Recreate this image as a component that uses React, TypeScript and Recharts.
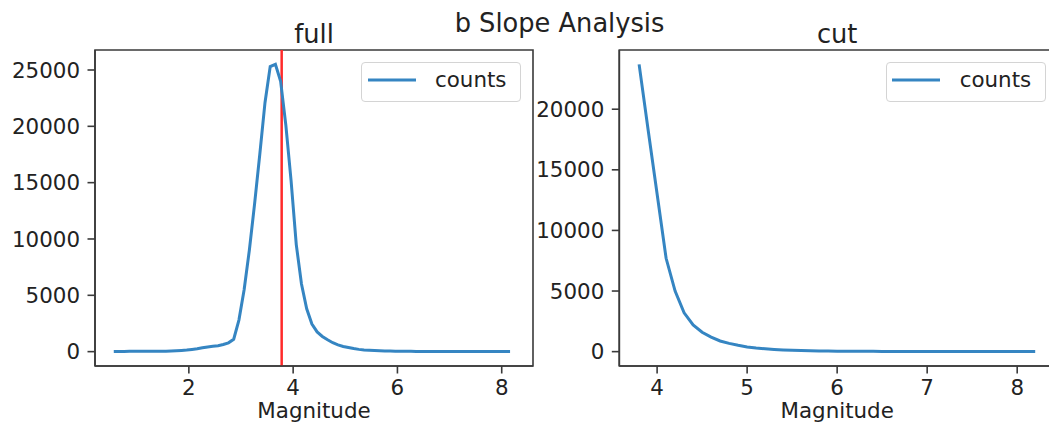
import { LineChart, Line, XAxis, YAxis, ReferenceLine, ReferenceArea, Legend } from "recharts";

// full catalogue: counts per 0.1 magnitude bin
const leftMagnitudes = [
  0.56, 0.66, 0.76, 0.86, 0.96, 1.06, 1.16, 1.26, 1.36, 1.46,
  1.56, 1.66, 1.76, 1.86, 1.96, 2.06, 2.16, 2.26, 2.36, 2.46,
  2.56, 2.66, 2.76, 2.86, 2.96, 3.06, 3.16, 3.26, 3.36, 3.46,
  3.56, 3.66, 3.76, 3.86, 3.96, 4.06, 4.16, 4.26, 4.36, 4.46,
  4.56, 4.66, 4.76, 4.86, 4.96, 5.06, 5.16, 5.26, 5.36, 5.46,
  5.56, 5.66, 5.76, 5.86, 5.96, 6.06, 6.16, 6.26, 6.36, 6.46,
  6.56, 6.66, 6.76, 6.86, 6.96, 7.06, 7.16, 7.26, 7.36, 7.46,
  7.56, 7.66, 7.76, 7.86, 7.96, 8.06, 8.16,
];
const leftCounts = [
  10, 15, 20, 25, 30, 35, 40, 35, 30, 35,
  45, 60, 80, 105, 140, 190, 250, 340, 420, 470,
  530, 630, 780, 1100, 2800, 5500, 9000, 13100, 17500, 22100,
  25300, 25500, 24000, 20100, 15200, 9500, 6000, 3800, 2450, 1750,
  1350, 1050, 790, 600, 460, 360, 270, 200, 150, 115,
  90, 75, 60, 50, 42, 35, 30, 26, 22, 20,
  17, 15, 13, 11, 10, 9, 8, 7, 6, 5,
  5, 4, 4, 3, 3, 2, 2,
];

// cut catalogue: magnitudes above completeness
const rightMagnitudes = [
  3.8, 3.9, 4.0, 4.1, 4.2, 4.3, 4.4, 4.5, 4.6, 4.7,
  4.8, 4.9, 5.0, 5.1, 5.2, 5.3, 5.4, 5.5, 5.6, 5.7,
  5.8, 5.9, 6.0, 6.1, 6.2, 6.3, 6.4, 6.5, 6.6, 6.7,
  6.8, 6.9, 7.0, 7.1, 7.2, 7.3, 7.4, 7.5, 7.6, 7.7,
  7.8, 7.9, 8.0, 8.1, 8.2,
];
const rightCounts = [
  23700, 18300, 13000, 7700, 5000, 3200, 2200, 1600, 1200, 880,
  680, 520, 390, 300, 230, 175, 135, 105, 85, 70,
  58, 48, 40, 34, 29, 25, 22, 19, 16, 14,
  12, 11, 10, 9, 8, 7, 6, 5, 5, 4,
  4, 3, 3, 2, 2,
];

const cutMagnitude = 3.78;

const leftXTicks = [2, 4, 6, 8];
const leftYTicks = [0, 5000, 10000, 15000, 20000, 25000];
const rightXTicks = [4, 5, 6, 7, 8];
const rightYTicks = [0, 5000, 10000, 15000, 20000];

const FONT = "'DejaVu Sans', sans-serif";
const FS = 21.4;
const SPINE = "#3a3a3a";
const TEXT = "#222";
const BLUE = "#3585c2";
const RED = "#ff2a2a";

function LegendBox() {
  return (
    <div
      style={{
        width: 160,
        height: 40,
        boxSizing: "border-box",
        border: "1.5px solid #d4d4d4",
        borderRadius: 4,
        background: "rgba(255,255,255,0.8)",
        position: "relative",
        fontFamily: FONT,
        fontSize: FS,
        color: TEXT,
      }}
    >
      <svg width={50} height={6} style={{ position: "absolute", left: 5.5, top: 13.5 }}>
        <line x1={0} y1={3} x2={48} y2={3} stroke={BLUE} strokeWidth={3} />
      </svg>
      <span style={{ position: "absolute", left: 73, top: 3.5, lineHeight: "26px" }}>counts</span>
    </div>
  );
}

interface PanelProps {
  title: string;
  mags: number[];
  counts: number[];
  xDomain: [number, number];
  yDomain: [number, number];
  xTicks: number[];
  yTicks: number[];
  left: number;
  width: number;
  margin: { top: number; right: number; bottom: number; left: number };
  yAxisWidth: number;
  legendLeft: number;
  cut?: number;
}

function Panel(p: PanelProps) {
  const data = p.mags.map((m, i) => ({ m, c: p.counts[i] }));
  const tickStyle = { fill: TEXT, fontSize: FS, fontFamily: FONT };
  const lineStyle = { stroke: SPINE, strokeWidth: 1.6 };
  return (
    <div style={{ position: "absolute", left: p.left, top: 0 }}>
      <LineChart width={p.width} height={429} data={data} margin={p.margin}>
        <XAxis
          dataKey="m"
          type="number"
          domain={p.xDomain}
          ticks={p.xTicks}
          allowDataOverflow
          height={63}
          tick={tickStyle}
          tickSize={7.5}
          tickMargin={6}
          axisLine={lineStyle}
          tickLine={lineStyle}
          label={{ value: "Magnitude", position: "insideBottom", offset: 11, fill: TEXT, fontSize: FS, fontFamily: FONT }}
        />
        <YAxis
          type="number"
          domain={p.yDomain}
          ticks={p.yTicks}
          allowDataOverflow
          width={p.yAxisWidth}
          tick={tickStyle}
          tickSize={7.5}
          tickMargin={7.5}
          axisLine={lineStyle}
          tickLine={lineStyle}
        />
        {p.cut !== undefined && (
          <ReferenceLine x={p.cut} stroke={RED} strokeWidth={2.5} />
        )}
        <Line
          type="linear"
          dataKey="c"
          name="counts"
          stroke={BLUE}
          strokeWidth={3}
          dot={false}
          isAnimationActive={false}
        />
        {/* axes frame (all four spines) and panel title */}
        <ReferenceArea
          x1={p.xDomain[0]}
          x2={p.xDomain[1]}
          y1={p.yDomain[0]}
          y2={p.yDomain[1]}
          fill="none"
          fillOpacity={0}
          stroke={SPINE}
          strokeWidth={1.6}
          strokeOpacity={1}
          ifOverflow="visible"
          label={{ value: p.title, position: "top", offset: 7.5, fill: TEXT, fontSize: 25.7, fontFamily: FONT }}
        />
        <Legend
          layout="horizontal"
          align="center"
          verticalAlign="middle"
          content={() => <LegendBox />}
          wrapperStyle={{ left: p.legendLeft, top: 62, width: 160, height: 40 }}
        />
      </LineChart>
    </div>
  );
}

export default function App() {
  return (
    <div
      style={{
        position: "absolute",
        left: 0,
        top: 0,
        width: 1049,
        height: 429,
        overflow: "hidden",
        background: "#fff",
      }}
    >
      <Panel
        title="full"
        mags={leftMagnitudes}
        counts={leftCounts}
        xDomain={[0.2, 8.6]}
        yDomain={[-1275, 26775]}
        xTicks={leftXTicks}
        yTicks={leftYTicks}
        left={0}
        width={545}
        margin={{ top: 50, right: 12, bottom: 0, left: 15 }}
        yAxisWidth={80}
        legendLeft={361}
        cut={cutMagnitude}
      />
      <Panel
        title="cut"
        mags={rightMagnitudes}
        counts={rightCounts}
        xDomain={[3.58, 8.42]}
        yDomain={[-1185, 24885]}
        xTicks={rightXTicks}
        yTicks={rightYTicks}
        left={525}
        width={535}
        margin={{ top: 50, right: 5, bottom: 0, left: 0 }}
        yAxisWidth={94.3}
        legendLeft={360.7}
      />
      <svg
        width={1049}
        height={50}
        style={{ position: "absolute", left: 0, top: 0, pointerEvents: "none" }}
      >
        <text x={559.5} y={32} textAnchor="middle" fill={TEXT} fontSize={25.7} fontFamily={FONT}>
          b Slope Analysis
        </text>
      </svg>
    </div>
  );
}
